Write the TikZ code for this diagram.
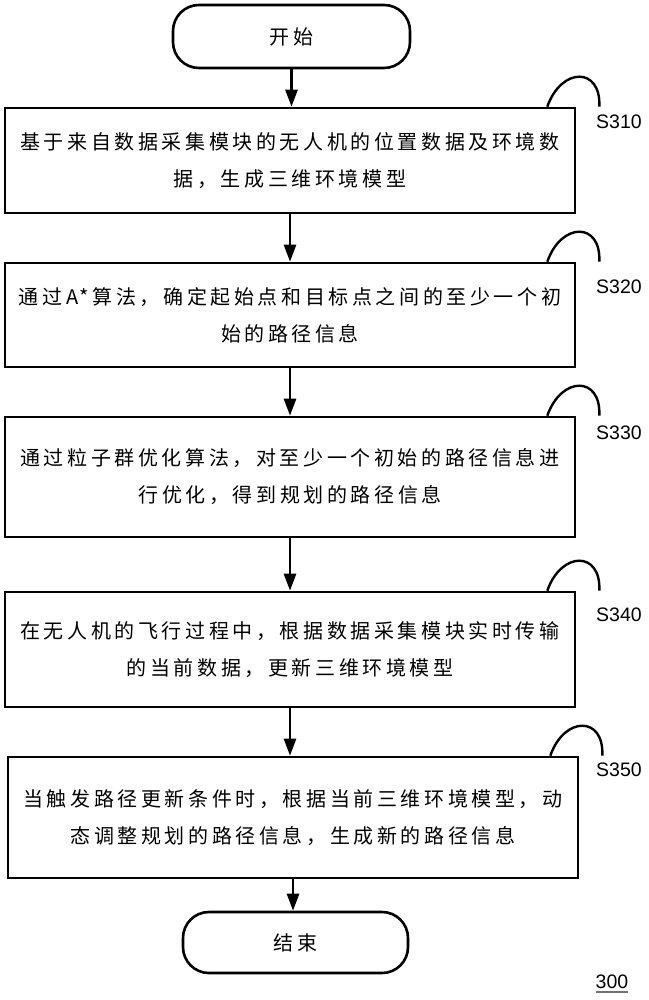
\documentclass[tikz,border=0pt]{standalone}
\usepackage{fontspec}
\setmainfont{Liberation Sans}
\newfontfamily\cjk[LetterSpace=18]{Noto Sans CJK SC}
\usetikzlibrary{arrows.meta}
\begin{document}
\begin{tikzpicture}[x=1pt,y=-1pt,
  stepbox/.style={draw, line width=2.6pt, minimum width=570pt, inner sep=0pt, align=center,
    font=\cjk\fontsize{20}{37}\selectfont},
  term/.style={draw, line width=2.6pt, rounded corners=26pt, inner sep=0pt,
    font=\cjk\fontsize{20}{24}\selectfont},
  arr/.style={line width=2.6pt, -{Triangle[length=17pt,width=12pt]}},
  curve/.style={line width=2.4pt},
  lab/.style={font=\fontsize{19.5}{22}\selectfont, inner sep=0pt}]
\useasboundingbox (0,0) rectangle (648,1000);

\node[term, minimum width=237pt, minimum height=63pt] (start) at (291.5,36.5) {开始};
\node[stepbox, minimum height=105pt] (b1) at (290,160.5) {基于来自数据采集模块的无人机的位置数据及环境数\\据，生成三维环境模型};
\node[stepbox, minimum height=104pt] (b2) at (290,315) {通过A*算法，确定起始点和目标点之间的至少一个初\\始的路径信息};
\node[stepbox, minimum height=120pt] (b3) at (290,477) {通过粒子群优化算法，对至少一个初始的路径信息进\\行优化，得到规划的路径信息};
\node[stepbox, minimum height=115pt] (b4) at (290,649.5) {在无人机的飞行过程中，根据数据采集模块实时传输\\的当前数据，更新三维环境模型};
\node[stepbox, minimum height=121pt] (b5) at (293,817.5) {当触发路径更新条件时，根据当前三维环境模型，动\\态调整规划的路径信息，生成新的路径信息};
\node[term, minimum width=225pt, minimum height=61pt] (end) at (295.5,942.5) {结束};

\draw[arr] (start.south) -- (start.south |- b1.north);
\draw[arr] (b1.south) -- (b1.south |- b2.north);
\draw[arr] (b2.south) -- (b2.south |- b3.north);
\draw[arr] (b3.south) -- (b3.south |- b4.north);
\draw[arr] (b4.south) -- (b4.south |- b5.north);
\draw[arr] (b5.south) -- (b5.south |- end.north);

\foreach \b/\s/\ly in {b1/S310/122, b2/S320/287, b3/S330/433, b4/S340/615, b5/S350/770}{
  \draw[curve] ([xshift=-29pt]\b.north east) .. controls +(14,-40) and +(2,-40) .. ([xshift=23pt]\b.north east);
  \node[lab] (\s) at (619,\ly) {\s};
}

\node[lab] (n300) at (612,982) {300};
\draw[line width=1.3pt, black!55] ([yshift=-3pt]n300.south west) -- ([yshift=-3pt]n300.south east);
\end{tikzpicture}
\end{document}
